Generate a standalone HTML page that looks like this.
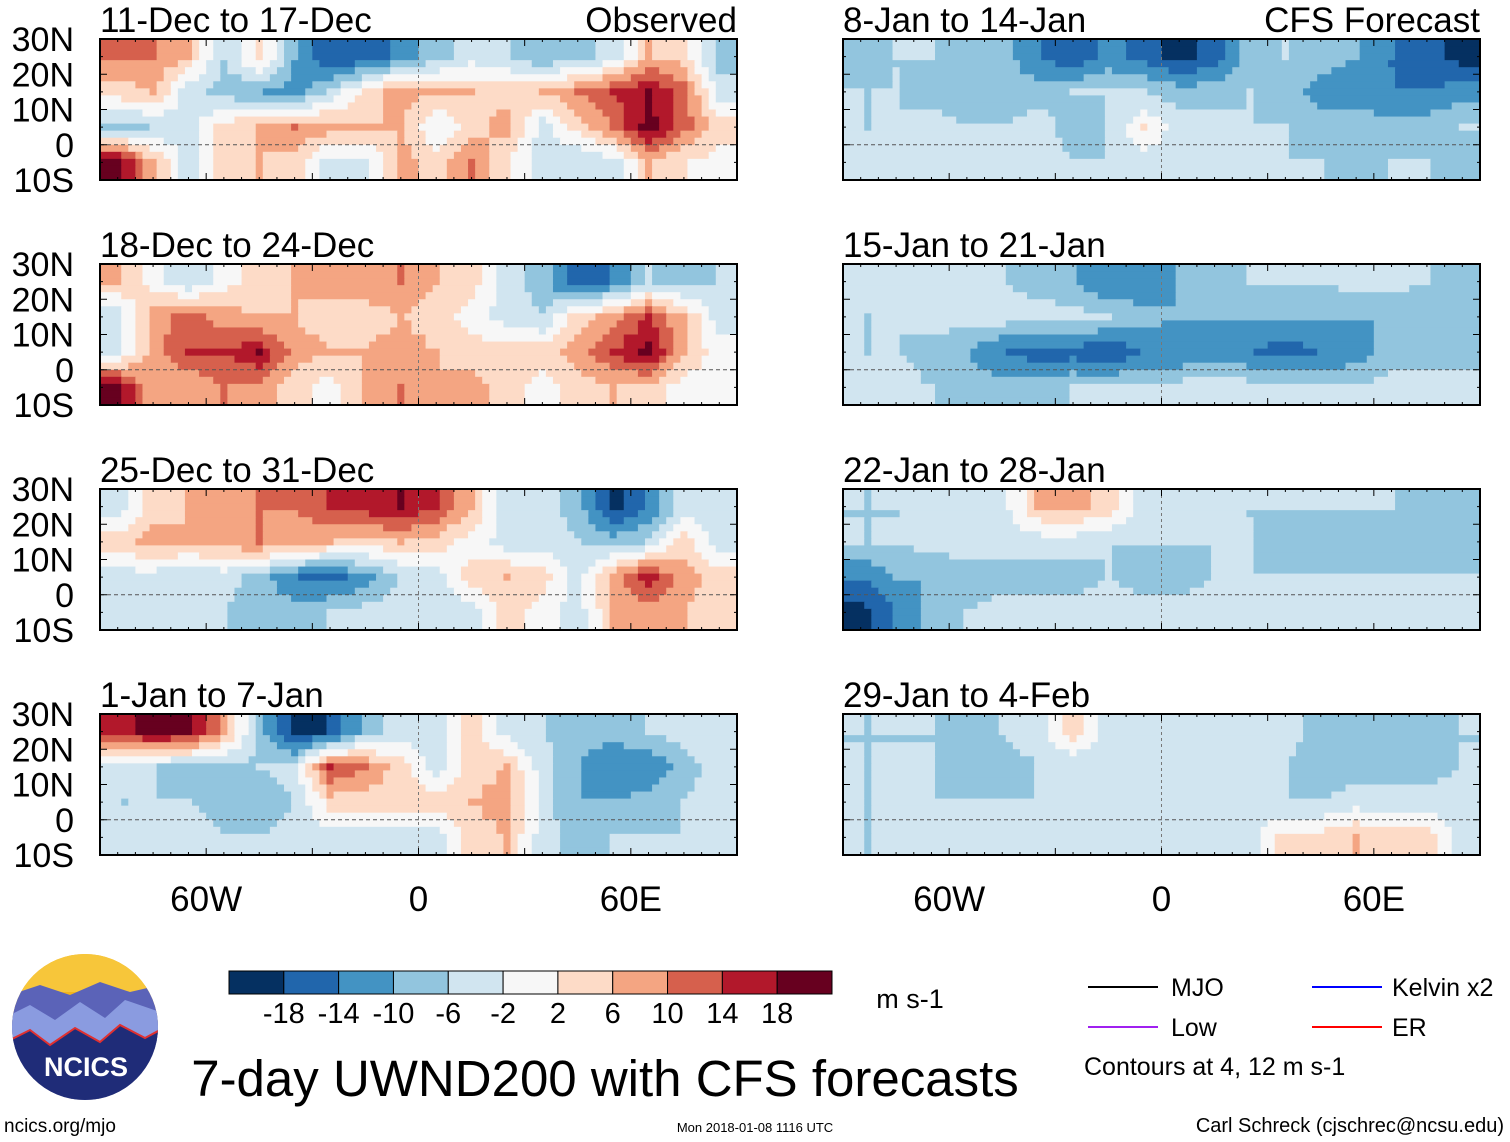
<!DOCTYPE html>
<html><head><meta charset="utf-8"><style>
body{margin:0;background:#fff;width:1510px;height:1142px;overflow:hidden;font-family:"Liberation Sans",sans-serif}
svg{position:absolute;left:0;top:0}
</style></head><body>
<svg id="fig" width="1510" height="1142">
<g id="panels"></g>
<g id="cbar"></g>
<g>
<clipPath id="lc"><circle cx="85" cy="1027" r="73"/></clipPath>
<g clip-path="url(#lc)">
<rect x="10" y="952" width="150" height="150" fill="#f2b41c"/>
<rect x="10" y="952" width="150" height="40" fill="#f7c63a"/>
<path d="M10 995 L40 985 L70 995 L100 982 L130 992 L160 985 L160 1102 L10 1102Z" fill="#5b63b8"/>
<path d="M10 1015 L30 1005 L55 1020 L80 1002 L105 1018 L125 1000 L160 1012 L160 1102 L10 1102Z" fill="#8a9be0"/>
<path d="M10 1040 L30 1030 L50 1045 L75 1028 L100 1042 L120 1025 L145 1038 L160 1030 L160 1102 L10 1102Z" fill="#1f2c78"/>
<path d="M10 1040 L30 1030 L50 1045 L75 1028 L100 1042 L120 1025 L145 1038 L160 1030" stroke="#e03030" stroke-width="2" fill="none"/>
</g>
<text x="86" y="1076" font-size="27" font-weight="bold" fill="#fff" text-anchor="middle">NCICS</text>
</g>
<text x="605" y="1096" font-size="51" text-anchor="middle">7-day UWND200 with CFS forecasts</text>
<text x="910" y="1008" font-size="27" text-anchor="middle">m s-1</text>
<g font-size="25">
<line x1="1088" y1="987" x2="1158" y2="987" stroke="#000" stroke-width="2"/><text x="1171" y="996">MJO</text>
<line x1="1088" y1="1027" x2="1158" y2="1027" stroke="#a020f0" stroke-width="2"/><text x="1171" y="1036">Low</text>
<line x1="1312" y1="987" x2="1382" y2="987" stroke="#0000ff" stroke-width="2"/><text x="1392" y="996">Kelvin x2</text>
<line x1="1312" y1="1027" x2="1382" y2="1027" stroke="#ff0000" stroke-width="2"/><text x="1392" y="1036">ER</text>
<text x="1084" y="1075" font-size="25">Contours at 4, 12 m s-1</text>
</g>
<text x="4" y="1132" font-size="19">ncics.org/mjo</text>
<text x="755" y="1132" font-size="13" text-anchor="middle">Mon 2018-01-08 1116 UTC</text>
<text x="1504" y="1132" font-size="20" text-anchor="end">Carl Schreck (cjschrec@ncsu.edu)</text>
</svg>
<script>
const NS="http://www.w3.org/2000/svg";
const lons=[-85,-75,-65,-55,-45,-35,-25,-15,-5,5,15,25,35,45,55,65,75,85];
const lats=[25,15,5,-5];
const titles=["11-Dec to 17-Dec","8-Jan to 14-Jan","18-Dec to 24-Dec","15-Jan to 21-Jan","25-Dec to 31-Dec","22-Jan to 28-Jan","1-Jan to 7-Jan","29-Jan to 4-Feb"];
const levels=[-18,-14,-10,-6,-2,2,6,10,14,18];
const colors=["#053061","#2166ac","#4393c3","#92c5de","#d1e5f0","#f7f7f7","#fddbc7","#f4a582","#d6604d","#b2182b","#67001f"];
const p1=[[10,10,6,-6,4,-10,-18,-18,-12,-8,-4,-6,-10,-8,-4,6,4,-8],[4,6,-4,-8,-10,-12,-6,4,8,6,6,4,6,10,14,18,12,-4],[-8,-6,-4,4,6,10,8,6,6,-2,4,8,-4,4,10,20,12,4],[20,6,-4,4,6,4,-4,-4,8,4,10,2,-4,-6,-4,6,2,0]];
const p2=[[-8,-6,-6,-8,-8,-14,-18,-12,-16,-20,-16,-8,-6,-8,-10,-14,-16,-20],[-6,-6,-8,-8,-8,-8,-6,-6,-6,-8,-8,-6,-8,-12,-12,-14,-14,-12],[-6,-6,-4,-6,-6,-4,-8,-6,2,-4,-4,-6,-6,-8,-8,-8,-8,-6],[-4,-4,-4,-4,-4,-4,-6,-6,-4,-4,-6,-6,-6,-6,-8,-6,-6,-8]];
const p3=[[6,0,-6,0,4,6,8,8,10,6,4,-4,-8,-18,-14,-6,-8,-6],[-4,8,12,8,6,6,4,4,6,4,0,-4,-6,4,8,14,6,-4],[-4,8,14,14,18,8,6,6,8,6,4,4,4,8,14,20,6,0],[20,6,6,10,8,4,0,6,10,6,8,4,0,4,6,4,0,0]];
const p4=[[-4,-4,-4,-6,-6,-8,-10,-14,-14,-10,-8,-6,-6,-6,-4,-4,-6,-8],[-6,-6,-4,-4,-4,-4,-4,-6,-8,-10,-10,-10,-10,-10,-10,-10,-10,-8],[-6,-6,-8,-10,-14,-16,-16,-18,-14,-14,-12,-14,-16,-14,-12,-8,-8,-8],[-4,-4,-6,-8,-8,-8,-6,-6,-4,-4,-4,-4,-6,-6,-6,-4,-4,-4]];
const p5=[[-4,4,6,8,10,10,14,16,18,14,6,-4,-4,-8,-20,-14,-4,-4],[4,8,6,8,10,8,6,4,6,4,0,-4,-4,-6,-8,-6,4,-4],[-4,-4,-6,-4,-8,-14,-16,-12,-6,-4,4,6,4,-4,8,16,8,4],[-6,-4,-4,-6,-8,-8,-6,-4,-4,-4,-4,4,0,-4,6,8,6,4]];
const p6=[[-6,-6,-4,-4,-4,6,8,4,-4,-4,-4,-6,-6,-6,-6,-6,-8,-10],[-6,-6,-4,-4,-4,-4,-4,-6,-6,-6,-6,-6,-8,-8,-8,-8,-8,-8],[-14,-10,-10,-8,-8,-8,-8,-6,-8,-8,-6,-6,-6,-6,-6,-6,-6,-6],[-20,-14,-8,-6,-4,-4,-4,-4,-4,-4,-4,-4,-4,-4,-4,-4,-4,-4]];
const p7=[[16,20,18,8,-8,-20,-18,-8,-4,-4,4,-4,-6,-8,-8,-6,-4,-4],[-4,-6,-8,-8,-6,-4,14,10,4,-4,4,6,-4,-10,-14,-14,-8,-4],[-6,-6,-6,-8,-10,-6,4,4,4,4,6,8,-4,-10,-10,-8,-6,-4],[-4,-4,-4,-6,-6,-4,-4,-4,-4,-4,4,6,-4,-8,-6,-6,-6,-4]];
const p8=[[-6,-6,-6,-8,-6,-4,4,-4,-4,-4,-4,-4,-4,-8,-10,-10,-8,-6],[-6,-6,-6,-8,-8,-6,-6,-6,-4,-4,-4,-4,-6,-8,-8,-8,-8,-6],[-6,-6,-6,-6,-6,-6,-4,-4,-4,-4,-4,-6,-6,-6,-4,-4,-4,-4],[-6,-6,-4,-4,-4,-4,-4,-4,-4,-4,-4,-4,4,4,6,4,4,-4]];
const fields=[p1,p2,p3,p4,p5,p6,p7,p8];

const PW=637,PH=141;
const xs=[100,843], ys=[39,264,489,714];
function colorOf(v){let i=0;while(i<levels.length&&v>=levels[i])i++;return colors[i];}
function sample(f,lon,lat){
  let fx=(lon-lons[0])/10, fy=(lats[0]-lat)/10;
  fx=Math.max(0,Math.min(17,fx)); fy=Math.max(0,Math.min(3,fy));
  const i0=Math.floor(fx),j0=Math.floor(fy),i1=Math.min(17,i0+1),j1=Math.min(3,j0+1);
  const tx=fx-i0,ty=fy-j0;
  return (f[j0][i0]*(1-tx)+f[j0][i1]*tx)*(1-ty)+(f[j1][i0]*(1-tx)+f[j1][i1]*tx)*ty;
}
function mk(tag,attrs,parent){const e=document.createElementNS(NS,tag);for(const k in attrs)e.setAttribute(k,attrs[k]);parent.appendChild(e);return e;}
const root=document.getElementById('panels');
fields.forEach((f,p)=>{
  const x0=xs[p%2], y0=ys[Math.floor(p/2)];
  const X=lon=>x0+(lon+90)/180*PW, Y=lat=>y0+(30-lat)/40*PH;
  const g=mk('g',{},root);
  
  
  const step=2;
  for(let lat=30;lat>-10;lat-=step){
    let runStart=-90,runC=null;
    for(let lon=-90;lon<=90;lon+=step){
      const c=lon<90?colorOf(sample(f,lon+step/2,lat-step/2)):null;
      if(c!==runC){
        if(runC){const r=mk('rect',{x:X(runStart),y:Y(lat),width:X(lon)-X(runStart)+0.6,height:Y(lat-step)-Y(lat)+0.6,fill:runC},g);
          
          }
        runStart=lon;runC=c;
      }
    }
  }
  mk('line',{x1:X(-90),x2:X(90),y1:Y(0),y2:Y(0),stroke:'#555','stroke-dasharray':'4,3','stroke-width':1},g);
  mk('line',{x1:X(0),x2:X(0),y1:Y(30),y2:Y(-10),stroke:'#777','stroke-dasharray':'3,3','stroke-width':1},g);
  mk('rect',{x:x0,y:y0,width:PW,height:PH,fill:'none',stroke:'#000','stroke-width':2},g);
  for(let lon=-90;lon<=90;lon+=5){const L=lon%30===0?7:3;
    mk('line',{x1:X(lon),x2:X(lon),y1:y0,y2:y0+L,stroke:'#000','stroke-width':1},g);
    mk('line',{x1:X(lon),x2:X(lon),y1:y0+PH,y2:y0+PH-L,stroke:'#000','stroke-width':1},g);}
  for(let lat=-10;lat<=30;lat+=5){const L=lat%10===0?7:3;
    mk('line',{x1:x0,x2:x0+L,y1:Y(lat),y2:Y(lat),stroke:'#000'},g);
    mk('line',{x1:x0+PW,x2:x0+PW-L,y1:Y(lat),y2:Y(lat),stroke:'#000'},g);}
  const t=mk('text',{x:x0,y:y0-7,'font-size':35},g);t.textContent=titles[p];
  
  
  if(p<2){const s=mk('text',{x:x0+PW,y:y0-7,'font-size':35,'text-anchor':'end'},g);s.textContent=p==0?'Observed':'CFS Forecast';
    
    }
  if(p%2===0){[['30N',30],['20N',20],['10N',10],['0',0],['10S',-10]].forEach(([s,l])=>{
    const tt=mk('text',{x:74,y:Y(l)+12,'font-size':34,'text-anchor':'end'},g);tt.textContent=s;
    
    });}
  if(p>=6){[['60W',-60],['0',0],['60E',60]].forEach(([s,l])=>{
    const tt=mk('text',{x:X(l),y:911,'font-size':35,'text-anchor':'middle'},g);tt.textContent=s;
    
    });}
});
const cb=document.getElementById('cbar');
const cw=(832-229)/11;
colors.forEach((c,i)=>{const r=mk('rect',{x:229+i*cw,y:971,width:cw,height:23,fill:c,stroke:'#000','stroke-width':1},cb);
  
  });
levels.forEach((v,i)=>{const t=mk('text',{x:229+(i+1)*cw,y:1023,'font-size':29,'text-anchor':'middle'},cb);t.textContent=v;
  
  });
</script>
</body></html>
